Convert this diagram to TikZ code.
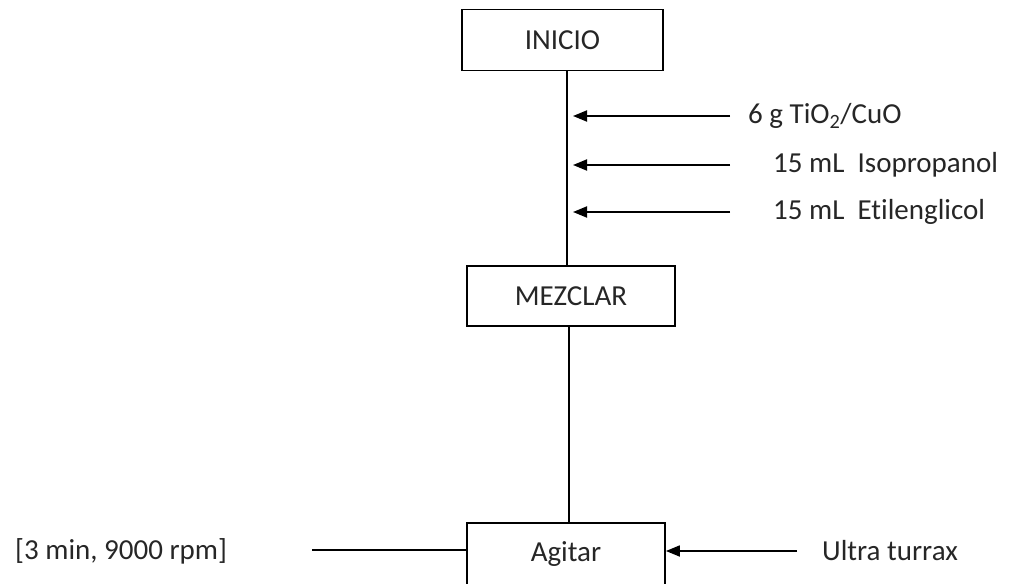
\documentclass[tikz,border=0pt]{standalone}
\usepackage{fontspec}
\setmainfont{Carlito}[Ligatures={NoCommon}]
\usetikzlibrary{arrows.meta}

\tikzset{
  procbox/.style={draw, line width=1.8pt, rectangle, inner sep=0pt, text=black!85},
  label/.style={anchor=west, inner sep=0pt, text=black!85},
  feed/.style={line width=1.8pt, -{Triangle[length=14pt,width=11pt]}},
  link/.style={line width=1.8pt}
}

\begin{document}
\begin{tikzpicture}[x=1pt, y=-1pt, font=\fontsize{29}{34}\selectfont]
  \useasboundingbox (0,0) rectangle (1013,584);
  \clip (0,0) rectangle (1013,584);

  % process steps
  \node[procbox, minimum width=201pt, minimum height=61pt] (inicio) at (562.5,40) {INICIO};
  \node[procbox, minimum width=208pt, minimum height=60pt] (mezclar) at (571,296) {MEZCLAR};
  \node[procbox, minimum width=198pt, minimum height=62pt] (agitar) at (566,554) {Agitar};

  % main flow lines
  \coordinate (spineA) at (567,0);
  \coordinate (spineB) at (569,0);
  \draw[link] (inicio.south -| spineA) -- (mezclar.north -| spineA);
  \draw[link] (mezclar.south -| spineB) -- (agitar.north -| spineB);

  % inputs to the mixture
  \node[label] (tio2) at (748,116) {6 g TiO\textsubscript{2}/CuO};
  \node[label] (iso)  at (773,165) {15 mL\ \ Isopropanol};
  \node[label] (eti)  at (773,212) {15 mL\ \ Etilenglicol};

  \coordinate (feedstart) at (730,0);
  \coordinate (feedend) at (573,0);
  \draw[feed] (tio2.west -| feedstart) -- (tio2.west -| feedend);
  \draw[feed] (iso.west -| feedstart) -- (iso.west -| feedend);
  \draw[feed] (eti.west -| feedstart) -- (eti.west -| feedend);

  % stirring conditions and equipment
  \node[label] (cond) at (15,551) {[3 min, 9000 rpm]};
  \node[label] (ultra) at (822,551) {Ultra turrax};

  \coordinate (condend) at (312,550);
  \draw[link] (condend) -- (agitar.west |- condend);

  \coordinate (ultrastart) at (797,551);
  \draw[feed] (ultrastart) -- (agitar.east |- ultrastart);
\end{tikzpicture}
\end{document}
